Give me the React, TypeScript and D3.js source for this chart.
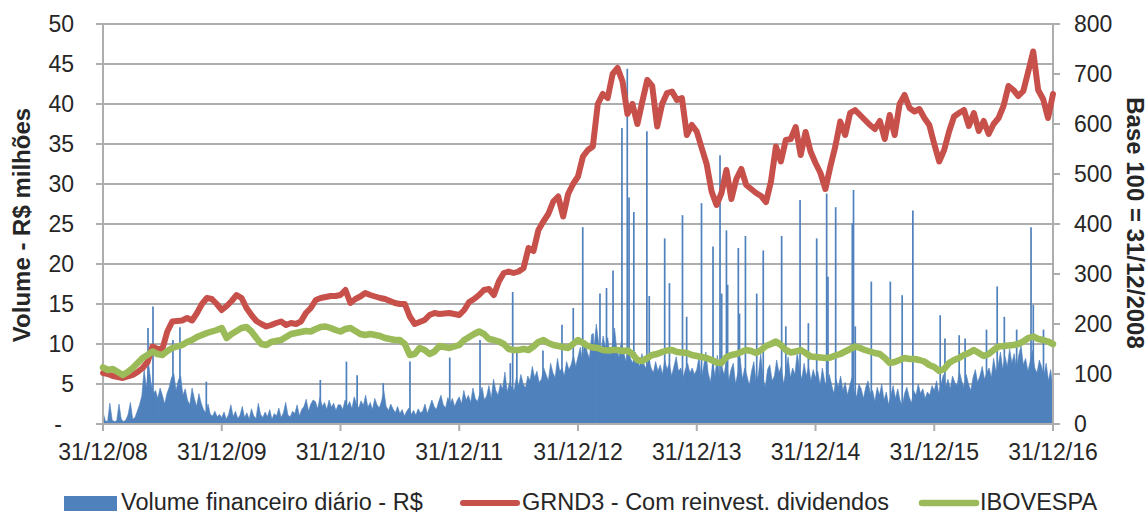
import * as d3 from "d3";

// x positions are in years after 31/12/2008
const yearLabels = ["31/12/08", "31/12/09", "31/12/10", "31/12/11", "31/12/12", "31/12/13", "31/12/14", "31/12/15", "31/12/16"];
const leftTicks = [0, 5, 10, 15, 20, 25, 30, 35, 40, 45, 50];
const rightTicks = [0, 100, 200, 300, 400, 500, 600, 700, 800];

// GRND3 with dividends reinvested, base 100, two readings per month
const grnd3 = [
  102, 100, 96, 94, 92, 95, 98, 104, 112, 124, 155, 150, 150, 185, 205, 206, 207, 212, 207, 222, 240, 252, 250, 240,
  228, 236, 246, 258, 252, 232, 218, 206, 200, 195, 198, 202, 205, 198, 202, 200, 205, 222, 232, 248, 252, 254, 256, 256,
  258, 268, 242, 250, 255, 262, 258, 255, 252, 250, 246, 242, 240, 240, 215, 200, 204, 208, 218, 222, 220, 221, 222, 220,
  218, 228, 244, 250, 258, 268, 270, 258, 285, 302, 305, 302, 305, 312, 352, 346, 388, 405, 420, 445, 455, 415, 460, 480,
  495, 535, 548, 555, 640, 660, 652, 700, 712, 685, 620, 640, 600, 645, 688, 676, 595, 640, 662, 665, 648, 652, 578, 598,
  585, 552, 520, 465, 438, 462, 508, 450, 490, 510, 478, 470, 462, 456, 444, 485, 555, 525, 568, 570, 594, 538, 584, 545,
  522, 502, 470, 515, 555, 605, 578, 622, 628, 618, 608, 598, 590, 606, 570, 618, 578, 640, 658, 632, 625, 630, 612, 598,
  560, 525, 548, 585, 615, 622, 628, 596, 622, 586, 606, 580, 600, 612, 636, 676, 668, 656, 666, 705, 745, 668, 650, 612,
  660,
];

// IBOVESPA, base 100, two readings per month
const ibovespa = [
  113, 108, 110, 104, 98, 104, 112, 122, 132, 138, 145, 140, 138, 146, 152, 155, 158, 164, 168, 174, 178, 182, 185, 188,
  192, 172, 180, 186, 192, 194, 185, 172, 160, 158, 164, 166, 168, 174, 180, 182, 184, 186, 185, 190, 194, 195, 192, 188,
  185, 190, 192, 186, 180, 178, 180, 178, 176, 172, 170, 168, 168, 160, 138, 140, 152, 148, 140, 145, 156, 154, 152, 155,
  158, 168, 174, 180, 185, 180, 170, 168, 165, 160, 150, 148, 148, 150, 148, 155, 164, 168, 162, 158, 156, 154, 152, 160,
  168, 162, 156, 153, 152, 148, 147, 148, 148, 146, 147, 140, 128, 126, 132, 138, 140, 144, 147, 148, 144, 143, 142, 138,
  136, 134, 132, 128, 123, 122, 134, 138, 140, 144, 148, 146, 142, 148, 156, 160, 165, 158, 148, 143, 145, 148, 142, 135,
  134, 133, 132, 133, 137, 140, 145, 150, 155, 152, 148, 145, 142, 140, 132, 122, 124, 128, 132, 130, 130, 128, 125, 118,
  114, 106, 110, 122, 128, 132, 138, 142, 148, 142, 136, 140, 148, 155, 156, 157, 158, 160, 165, 172, 175, 170, 168, 165,
  160,
];

// daily volume, R$ millions: weekly level of the dense mass
const volumeWeekly = [
  1.5, 0.4, 0.3, 2.6, 0.5, 0.3, 0.4, 2.5, 0.6, 0.3, 0.5, 1.2, 2.7, 0.6, 0.8, 1.6, 2.4,
  3.5, 6.8, 4.5, 7.5, 5.2, 3.8, 4.2, 3.2, 4.5, 3.6, 2.5, 3.8,
  4.6, 5.8, 6.3, 4.2, 5.5, 6.0, 3.6, 4.4, 3.0, 2.4, 4.5, 3.2, 2.2, 3.8, 2.6, 1.8,
  1.4, 2.5, 1.2, 1.0, 1.6, 0.9, 1.2,
  0.8, 1.5, 0.6, 1.2, 2.4, 0.9, 1.6, 0.7, 1.1, 2.2, 0.8, 1.4,
  0.6, 1.9, 1.0, 0.7, 2.6, 1.2, 0.8, 1.5, 0.9, 1.8, 0.6, 1.3,
  1.0, 2.0, 0.8, 1.4, 2.7, 1.1, 0.9, 1.6, 1.3, 2.4, 1.0, 1.8,
  2.2, 3.1, 1.6, 2.5, 3.0, 2.8, 1.9, 3.3, 2.2, 2.7, 1.8, 3.0,
  2.1, 2.6, 1.7, 2.4,
  2.4, 1.8, 3.0, 2.2, 2.8, 1.9, 3.4, 2.5, 2.0, 2.9, 2.3, 3.6,
  2.1, 2.7, 1.8, 3.2, 2.4, 2.0, 2.9, 4.1, 2.2, 1.7, 2.5, 1.9,
  1.4, 2.2, 1.3, 1.8, 1.0, 1.6, 2.0, 1.2, 1.7, 1.1, 1.9, 1.4,
  1.6, 2.5, 1.3, 2.1, 3.0, 2.2, 1.8, 2.8, 3.6, 2.4, 2.0, 3.3,
  2.6, 3.2, 2.2, 2.9,
  3.4, 2.5, 4.2, 3.0, 3.6, 2.7, 4.5, 3.2, 2.8, 3.8, 4.6, 3.0,
  3.5, 4.8, 3.2, 5.6, 4.2, 3.6, 5.0, 4.4, 6.5, 4.0, 5.2, 4.6,
  4.2, 5.8, 4.8, 6.2, 5.0, 4.5, 6.0, 5.4, 7.2, 5.8, 6.6, 5.2,
  5.6, 7.0, 6.2, 5.4, 7.6, 6.4, 5.8, 8.2, 6.6, 7.0, 6.0, 7.8,
  6.8, 7.4, 8.6, 7.2,
  8.4, 9.6, 7.8, 10.5, 9.0, 8.2, 11.2, 9.4, 12.5, 10.2, 8.8, 11.0,
  9.5, 10.8, 8.6, 9.8, 12.0, 9.2, 8.4, 10.4, 9.0, 7.8, 9.6, 8.2,
  7.6, 9.0, 8.0, 7.2, 8.8, 7.4, 6.8, 8.2, 7.0, 6.4, 7.8, 6.6,
  7.4, 6.2, 8.0, 6.8, 7.6, 6.0, 7.2, 8.4, 6.6, 7.0, 5.8, 6.8,
  7.6, 6.4, 7.0, 6.2,
  6.8, 8.4, 5.6, 7.2, 9.0, 6.4, 5.2, 7.8, 6.0, 8.6, 5.8, 7.0,
  6.2, 8.0, 5.4, 6.8, 7.6, 5.0, 6.4, 8.2, 5.6, 7.0, 6.0, 4.8,
  6.6, 7.8, 5.2, 6.2, 8.8, 5.8, 4.6, 6.8, 7.4, 5.4, 6.0, 8.0,
  6.4, 7.2, 5.0, 6.6, 8.4, 5.8, 7.0, 6.2, 9.0, 6.8, 5.6, 7.6,
  6.0, 7.2, 5.4, 6.8,
  5.8, 6.6, 4.8, 7.0, 5.4, 4.4, 6.2, 5.0, 3.8, 5.6, 4.6, 6.0,
  4.2, 5.2, 3.6, 4.8, 5.8, 4.0, 3.4, 5.0, 4.4, 3.2, 4.6, 5.4,
  3.8, 4.2, 2.8, 4.6, 3.6, 5.0, 3.0, 4.0, 2.4, 3.6, 4.8, 3.2,
  4.4, 3.0, 2.2, 3.8, 4.6, 3.4, 2.6, 4.2, 3.6, 5.0, 3.8, 4.4,
  3.2, 4.0, 3.6, 4.8,
  4.2, 5.4, 3.8, 5.0, 6.2, 4.6, 5.6, 4.4, 6.0, 5.2, 4.8, 6.6,
  5.4, 4.6, 6.2, 5.0, 4.2, 5.8, 6.8, 5.2, 6.0, 7.2, 5.6, 6.4,
  7.0, 5.8, 8.2, 6.6, 7.4, 9.0, 6.8, 8.4, 7.2, 9.4, 7.6, 8.8,
  7.0, 8.6, 9.8, 7.4, 8.2, 6.6, 7.8, 9.2, 7.0, 6.4, 8.0, 7.2,
  6.0, 7.6, 5.4, 6.8, 4.2,
];

// single days with very high volume: [years after 31/12/08, R$ millions]
const volumeSpikes: [number, number][] = [
  [0.379, 12.0], [0.421, 14.7], [0.589, 10.5], [0.648, 12.1], [0.87, 5.3], [1.83, 5.5],
  [2.05, 7.8], [2.14, 6.1], [2.36, 5.1], [2.585, 7.8], [2.92, 8.3], [3.175, 10.5],
  [3.43, 7.6], [3.45, 16.5], [3.485, 9.2], [3.705, 9.2], [3.865, 12.4], [3.96, 14.5],
  [4.04, 24.6], [4.126, 11.3], [4.185, 16.3], [4.24, 17.0], [4.295, 19.2], [4.37, 37.0],
  [4.415, 44.4], [4.43, 28.3], [4.47, 26.5], [4.58, 36.6], [4.6, 16.0], [4.73, 23.2],
  [4.77, 17.6], [4.88, 26.1], [4.915, 13.4], [5.04, 27.6], [5.137, 22.2], [5.196, 33.6],
  [5.21, 16.3], [5.25, 24.2], [5.26, 17.4], [5.35, 22.0], [5.36, 13.8], [5.41, 23.5],
  [5.505, 16.3], [5.56, 21.7], [5.715, 23.5], [5.75, 12.2], [5.87, 28.0], [5.94, 12.6],
  [6.01, 23.2], [6.094, 28.8], [6.105, 18.4], [6.17, 27.1], [6.31, 25.1], [6.32, 29.25],
  [6.335, 12.2], [6.47, 17.8], [6.63, 17.8], [6.73, 16.1], [6.82, 26.7], [7.05, 13.6],
  [7.09, 10.7], [7.21, 11.1], [7.26, 10.7], [7.44, 11.8], [7.53, 17.2], [7.59, 13.4],
  [7.694, 11.8], [7.815, 24.6], [7.834, 14.9], [7.92, 11.8],
];

const W = 1148;
const H = 515;
const FONT = "'Liberation Sans', Arial, sans-serif";
const GRID = "#ADADAD";
const BLUE = "#4F81BD";
const RED = "#C8504B";
const GREEN = "#9BBB59";

export default function App() {
  const x = d3.scaleLinear().domain([0, 8]).range([103, 1053]);
  const yL = d3.scaleLinear().domain([0, 50]).range([424, 24]);
  const yR = d3.scaleLinear().domain([0, 800]).range([424, 24]);

  const halfMonth = (i: number) => i / 24;
  const week = (i: number) => (i * 8) / (volumeWeekly.length - 1);

  const lineRed = d3
    .line<number>()
    .x((_, i) => x(halfMonth(i)))
    .y((d) => yR(d));
  const lineGreen = d3
    .line<number>()
    .x((_, i) => x(halfMonth(i)))
    .y((d) => yR(d));
  const volArea = d3
    .area<number>()
    .x((_, i) => x(week(i)))
    .y0(yL(0))
    .y1((d) => yL(d));

  return (
    <div style={{ position: "absolute", left: 0, top: 0 }}>
      <svg width={W} height={H} style={{ display: "block", background: "#fff" }} fontFamily={FONT}>
        {/* horizontal grid */}
        {leftTicks.map((t) => (
          <line key={"g" + t} x1={x(0)} x2={x(8)} y1={yL(t)} y2={yL(t)} stroke={GRID} strokeWidth={2} />
        ))}

        {/* volume */}
        <path d={volArea(volumeWeekly) || ""} fill={BLUE} stroke={BLUE} strokeWidth={0.6} />
        {volumeSpikes.map(([t, v], i) => (
          <line key={"s" + i} x1={x(t)} x2={x(t)} y1={yL(0)} y2={yL(v)} stroke={BLUE} strokeWidth={1.7} />
        ))}

        {/* axes */}
        <line x1={x(0)} x2={x(0)} y1={yL(0)} y2={yL(50)} stroke={GRID} strokeWidth={2} />
        <line x1={x(8)} x2={x(8)} y1={yL(0)} y2={yL(50)} stroke={GRID} strokeWidth={2} />
        <line x1={x(0)} x2={x(8)} y1={yL(0)} y2={yL(0)} stroke={GRID} strokeWidth={2} />
        {leftTicks.map((t) => (
          <g key={"lt" + t}>
            <line x1={x(0) - 7} x2={x(0)} y1={yL(t)} y2={yL(t)} stroke={GRID} strokeWidth={2} />
            <text x={t === 0 ? 62 : 74} y={yL(t) + 8} fontSize={23} textAnchor="end" fill="#262626">
              {t === 0 ? "-" : t}
            </text>
          </g>
        ))}
        {rightTicks.map((t) => (
          <g key={"rt" + t}>
            <line x1={x(8)} x2={x(8) + 7} y1={yR(t)} y2={yR(t)} stroke={GRID} strokeWidth={2} />
            <text x={1074} y={yR(t) + 8} fontSize={23} textAnchor="start" fill="#262626">
              {t}
            </text>
          </g>
        ))}
        {yearLabels.map((lab, i) => (
          <g key={lab}>
            <line x1={x(i)} x2={x(i)} y1={yL(0)} y2={yL(0) + 7} stroke={GRID} strokeWidth={2} />
            <text x={x(i)} y={460} fontSize={23} textAnchor="middle" fill="#262626">
              {lab}
            </text>
          </g>
        ))}

        {/* lines */}
        <path d={lineRed(grnd3) || ""} fill="none" stroke={RED} strokeWidth={6} strokeLinejoin="round" strokeLinecap="round" />
        <path d={lineGreen(ibovespa) || ""} fill="none" stroke={GREEN} strokeWidth={6.5} strokeLinejoin="round" strokeLinecap="round" />

        {/* axis titles */}
        <text transform="translate(30,225) rotate(-90)" fontSize={24} fontWeight="bold" textAnchor="middle" fill="#262626">
          Volume - R$ milhões
        </text>
        <text transform="translate(1127,223) rotate(90)" fontSize={24} fontWeight="bold" textAnchor="middle" fill="#262626">
          Base 100 = 31/12/2008
        </text>

        {/* legend */}
        <rect x={64} y={496} width={53} height={15} fill={BLUE} />
        <text x={121} y={510} fontSize={23.5} fill="#262626">Volume financeiro diário - R$</text>
        <line x1={463} x2={517} y1={503} y2={503} stroke={RED} strokeWidth={6} strokeLinecap="round" />
        <text x={522} y={510} fontSize={23.5} fill="#262626">GRND3 - Com reinvest. dividendos</text>
        <line x1={922} x2={976} y1={503} y2={503} stroke={GREEN} strokeWidth={6.5} strokeLinecap="round" />
        <text x={980} y={510} fontSize={23.5} fill="#262626">IBOVESPA</text>
      </svg>
    </div>
  );
}
